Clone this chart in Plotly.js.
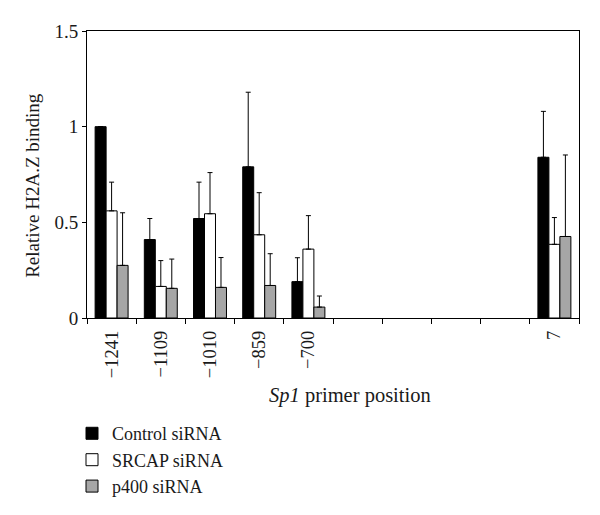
<!DOCTYPE html>
<html>
<head>
<meta charset="utf-8">
<script src="https://cdn.plot.ly/plotly-3.0.1.min.js"></script>
<style>html,body{margin:0;padding:0;background:#fff;}#chart{width:600px;height:515px;}</style>
</head>
<body>
<div id="chart"></div>
<script>
// Primer positions (blank slots shown as empty categories)
var positions = ['\u22121241', '\u22121109', '\u22121010', '\u2212859', '\u2212700', '', '', '', '', '7'];
var slotIndex = [0, 1, 2, 3, 4, 9];
var labelsShown = ['\u22121241', '\u22121109', '\u22121010', '\u2212859', '\u2212700', '7'];

var controlVals = [1.0, 0.41, 0.52, 0.79, 0.19, 0.84];
var controlErr  = [0.0, 0.11, 0.19, 0.39, 0.125, 0.24];
var srcapVals   = [0.56, 0.165, 0.545, 0.435, 0.36, 0.385];
var srcapErr    = [0.15, 0.135, 0.215, 0.22, 0.175, 0.14];
var p400Vals    = [0.275, 0.155, 0.16, 0.17, 0.057, 0.426];
var p400Err     = [0.275, 0.153, 0.156, 0.166, 0.058, 0.426];

var seriesNames = ['Control siRNA', 'SRCAP siRNA', 'p400 siRNA'];
var zeros = slotIndex.map(function(){return 0;});

function makeTrace(name, vals, errs, color) {
  return {
    type: 'bar', name: name, x: slotIndex, y: vals,
    marker: {color: color, line: {color: '#000', width: 1}},
    error_y: {type: 'data', array: errs, arrayminus: zeros, symmetric: false,
              color: '#000', thickness: 1, width: 2.5},
    hoverinfo: 'skip'
  };
}

var data = [
  makeTrace(seriesNames[0], controlVals, controlErr, '#000000'),
  makeTrace(seriesNames[1], srcapVals, srcapErr, '#ffffff'),
  makeTrace(seriesNames[2], p400Vals, p400Err, '#a6a6a6')
];

var boundaries = [];
for (var i = 0; i <= positions.length; i++) boundaries.push(i - 0.5);

var fontFam = '"Liberation Serif", "Times New Roman", serif';
var txtCol = '#1a1a1a';

var layout = {
  width: 600, height: 515,
  margin: {l: 87, r: 21, t: 31, b: 197, autoexpand: false},
  paper_bgcolor: '#fff', plot_bgcolor: '#fff',
  font: {family: fontFam, size: 19, color: txtCol},
  barmode: 'group', bargap: 0.33, bargroupgap: 0,
  showlegend: true,
  legend: {xref: 'container', yref: 'container', x: 0.12, xanchor: 'left', y: 0.194, yanchor: 'top',
           font: {family: fontFam, size: 18, color: txtCol},
           tracegroupgap: 0, itemclick: false},
  xaxis: {
    range: [-0.5, positions.length - 0.5], automargin: false,
    tickmode: 'array', tickvals: boundaries, ticktext: boundaries.map(function(){return '';}),
    ticks: 'outside', ticklen: 5, tickcolor: '#000', tickwidth: 1,
    showline: true, linecolor: '#000', linewidth: 1, mirror: true,
    showgrid: false, zeroline: false, fixedrange: true
  },
  xaxis2: {
    overlaying: 'x', anchor: 'y', side: 'bottom', automargin: false,
    range: [-0.5, positions.length - 0.5],
    tickmode: 'array', tickvals: slotIndex, ticktext: labelsShown,
    tickangle: -90, ticks: '', ticklabelstandoff: 8,
    showline: false, showgrid: false, zeroline: false,
    tickfont: {family: fontFam, size: 18.5, color: txtCol},
    fixedrange: true
  },
  yaxis: {
    range: [0, 1.5], automargin: false, tickmode: 'array', tickvals: [0, 0.5, 1, 1.5], ticktext: ['0', '0.5', '1', '1.5'],
    ticks: 'outside', ticklen: 4, tickcolor: '#000', tickwidth: 1,
    showline: true, linecolor: '#000', linewidth: 1, mirror: true,
    showgrid: false, zeroline: false, fixedrange: true,
    tickfont: {family: fontFam, size: 19, color: txtCol}
  },
  annotations: [
    {text: 'Relative H2A.Z binding', xref: 'paper', yref: 'paper', x: -0.1098, y: 0.464,
     xanchor: 'center', yanchor: 'middle', textangle: -90, showarrow: false,
     font: {family: fontFam, size: 19, color: txtCol}},
    {text: '<i>Sp1</i> primer position', xref: 'paper', yref: 'paper', x: 0.5346, y: -0.270,
     xanchor: 'center', yanchor: 'middle', showarrow: false,
     font: {family: fontFam, size: 20.5, color: txtCol}}
  ]
};

// invisible helper trace to activate the label axis
data.push({type: 'scatter', x: [0], y: [0], xaxis: 'x2', yaxis: 'y', mode: 'markers',
           marker: {opacity: 0}, showlegend: false, hoverinfo: 'skip'});

Plotly.newPlot('chart', data, layout, {displayModeBar: false, staticPlot: true});
</script>
</body>
</html>
